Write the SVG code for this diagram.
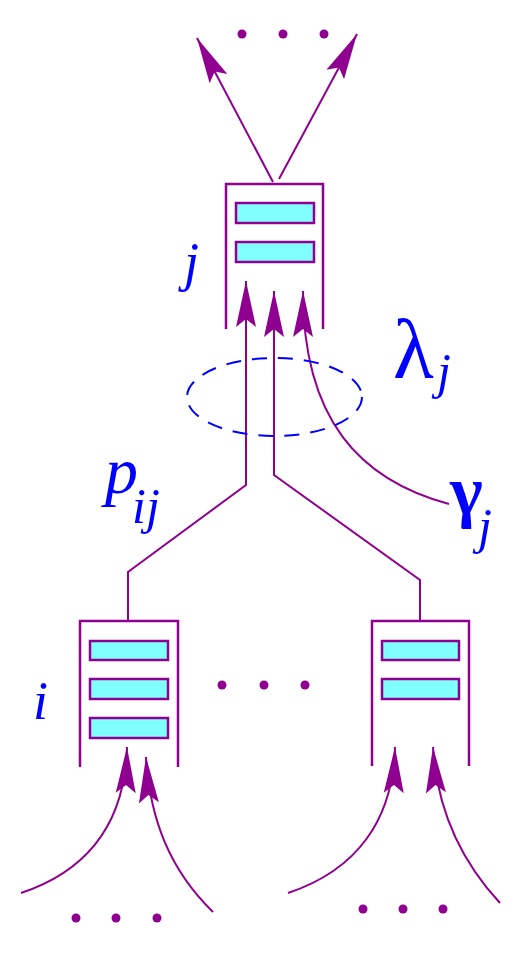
<svg xmlns="http://www.w3.org/2000/svg" width="531" height="958" viewBox="0 0 531 958">
<style>
.ln{fill:none;stroke:#900090;stroke-width:2}
.box{fill:none;stroke:#900090;stroke-width:2.5}
.slot{fill:#80ffff;stroke:#900090;stroke-width:2.5}
.dot{fill:#900090}
.lbl{fill:#0000ff;font-family:"Liberation Serif",serif;font-style:italic}
.gr{fill:#0000ff;font-family:"Liberation Serif",serif}
</style>
<defs>
<marker id="ah" markerUnits="userSpaceOnUse" markerWidth="50" markerHeight="24" viewBox="-48 -12 50 24" refX="0" refY="0" orient="auto">
<path d="M0,0 L-46,-10 L-38,0 L-46,10 Z" fill="#900090"/>
</marker>
</defs>
<g id="node-j">
<path class="box" d="M226,329 V184 H323 V329"/>
<rect class="slot" x="236" y="203" width="78" height="20"/>
<rect class="slot" x="236" y="242" width="78" height="20"/>
<text class="lbl" x="184" y="280" font-size="54">j</text>
</g>
<g id="node-i">
<path class="box" d="M80,767 V621 H178 V767"/>
<rect class="slot" x="90" y="641" width="78" height="19"/>
<rect class="slot" x="90" y="679" width="78" height="20"/>
<rect class="slot" x="90" y="718" width="78" height="20"/>
<text class="lbl" x="33" y="719" font-size="54">i</text>
</g>
<g id="node-k">
<path class="box" d="M372,766 V621 H469 V766"/>
<rect class="slot" x="382" y="641" width="77" height="19"/>
<rect class="slot" x="382" y="679" width="77" height="20"/>
</g>
<g id="connectors">
<path class="ln" d="M273,182 L197,38" marker-end="url(#ah)"/>
<path class="ln" d="M279,179 L357,34" marker-end="url(#ah)"/>
<path class="ln" d="M128,621 V572 L246,485 V281" marker-end="url(#ah)"/>
<path class="ln" d="M420,621 V580 L274,475 V291" marker-end="url(#ah)"/>
<path class="ln" d="M449,504 C360,480 303,420 303,291" marker-end="url(#ah)"/>
<path class="ln" d="M21,893 C90,870 125,820 127,747" marker-end="url(#ah)"/>
<path class="ln" d="M213,912 C170,870 150,820 146,757" marker-end="url(#ah)"/>
<path class="ln" d="M288,893 C357,870 393,820 395,747" marker-end="url(#ah)"/>
<path class="ln" d="M500,903 C460,860 437,810 433,747" marker-end="url(#ah)"/>
</g>
<g id="ellipse">
<ellipse cx="274.5" cy="397" rx="87.5" ry="39" fill="none" stroke="#0000ff" stroke-width="2" stroke-dasharray="15,11"/>
</g>
<g id="labels">
<text class="lbl" font-size="66"><tspan x="105" y="493">p</tspan><tspan x="132" y="523" font-size="50">ij</tspan></text>
<text class="gr" font-size="84"><tspan x="393" y="378">λ</tspan><tspan class="lbl" x="437" y="388" font-size="50">j</tspan></text>
<text class="gr" font-size="70" font-weight="bold"><tspan x="450" y="514">γ</tspan><tspan class="lbl" x="478" y="543" font-size="50" font-weight="normal">j</tspan></text>
</g>
<g id="ellipsis">
<circle class="dot" cx="242" cy="34" r="4.5"/>
<circle class="dot" cx="283" cy="34" r="4.5"/>
<circle class="dot" cx="324" cy="34" r="4.5"/>
<circle class="dot" cx="222" cy="685" r="4.5"/>
<circle class="dot" cx="264" cy="685" r="4.5"/>
<circle class="dot" cx="305" cy="685" r="4.5"/>
<circle class="dot" cx="76" cy="918" r="4.5"/>
<circle class="dot" cx="116" cy="918" r="4.5"/>
<circle class="dot" cx="157" cy="918" r="4.5"/>
<circle class="dot" cx="363" cy="909" r="4.5"/>
<circle class="dot" cx="403" cy="909" r="4.5"/>
<circle class="dot" cx="443" cy="909" r="4.5"/>
</g>
</svg>
